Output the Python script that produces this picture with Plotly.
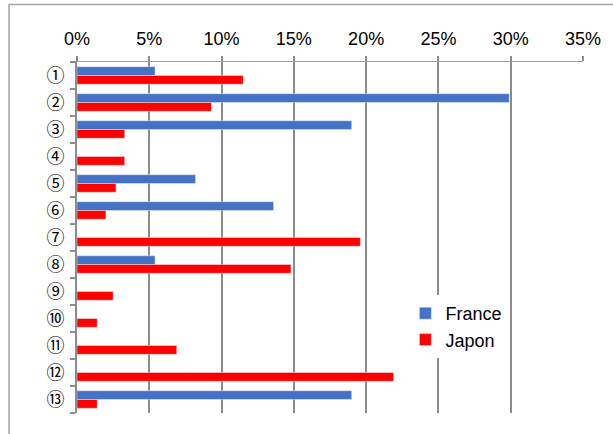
import plotly.graph_objects as go

categories = ["①", "②", "③", "④", "⑤", "⑥", "⑦", "⑧", "⑨", "⑩", "⑪", "⑫", "⑬"]
france = [0.054, 0.299, 0.190, 0.0, 0.082, 0.136, 0.0, 0.054, 0.0, 0.0, 0.0, 0.0, 0.190]
japon = [0.115, 0.093, 0.033, 0.033, 0.027, 0.020, 0.196, 0.148, 0.025, 0.014, 0.069, 0.219, 0.014]
x_ticks = [0, 0.05, 0.10, 0.15, 0.20, 0.25, 0.30, 0.35]

W, H = 613, 434
L, R, T, B = 77, 26, 62, 21
PW, PH = W - L - R, H - T - B

def px2paper_x(px):
    return (px - L) / PW

def px2paper_y(py):
    return 1 - (py - T) / PH

fig = go.Figure()
fig.add_trace(go.Bar(name="France", y=categories, x=france, orientation="h",
                     marker=dict(color="#4472C4"), legendgroup="a"))
fig.add_trace(go.Bar(name="Japon", y=categories, x=japon, orientation="h",
                     marker=dict(color="#FF0000"), legendgroup="b"))

fig.update_layout(
    width=W, height=H,
    margin=dict(l=L, r=R, t=T, b=B, pad=0),
    paper_bgcolor="white", plot_bgcolor="white",
    barmode="group", bargap=0.35, bargroupgap=0,
    font=dict(family="Liberation Sans, Arial, sans-serif", size=18, color="black"),
    legend=dict(x=px2paper_x(408), y=px2paper_y(295), xanchor="left", yanchor="top",
                bgcolor="white", borderwidth=0, traceorder="grouped",
                tracegroupgap=0, font=dict(size=18)),
    xaxis=dict(side="top", range=[0, 0.35], tickvals=x_ticks, tickformat=".0%",
               showgrid=True, gridcolor="#8c8c8c", gridwidth=2,
               showline=True, linecolor="#a0a0a0", linewidth=1,
               ticks="outside", ticklen=5, tickcolor="#8c8c8c", tickwidth=2,
               zeroline=False, fixedrange=True, ticklabelstandoff=4),
    yaxis=dict(autorange="reversed", type="category",
               tickmode="array", tickvals=categories, ticktext=categories,
               showline=True, linecolor="#8c8c8c", linewidth=2,
               ticks="outside", tickson="boundaries", ticklen=5,
               tickcolor="#8c8c8c", tickwidth=2, showgrid=False,
               tickfont=dict(family="Noto Sans CJK JP", size=18),
               ticklabelstandoff=7),
    shapes=[dict(type="rect", xref="paper", yref="paper",
                 x0=px2paper_x(8.5), x1=px2paper_x(640),
                 y0=px2paper_y(4.5), y1=px2paper_y(460),
                 line=dict(color="#a6a6a6", width=1.5), layer="below")],
)

fig.write_html("out.html")
